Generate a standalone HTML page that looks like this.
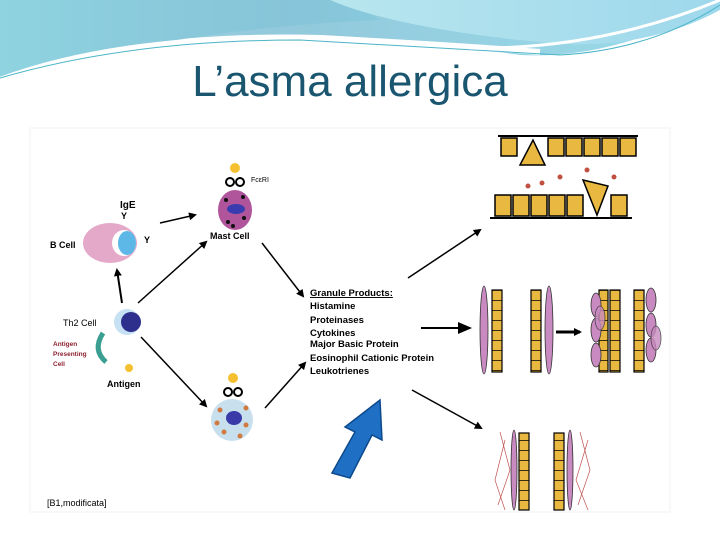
<!DOCTYPE html>
<html><head><meta charset="utf-8"><style>
body{margin:0;width:720px;height:540px;overflow:hidden;background:#fff;font-family:"Liberation Sans",sans-serif}
</style></head><body>
<svg width="720" height="540" xmlns="http://www.w3.org/2000/svg" font-family="Liberation Sans, sans-serif">
<defs>
<linearGradient id="g1" x1="0" y1="0" x2="1" y2="0"><stop offset="0" stop-color="#8fd3e0"/><stop offset="0.4" stop-color="#86c3d8"/><stop offset="1" stop-color="#8fd8e8"/></linearGradient>
<linearGradient id="g2" x1="0" y1="0" x2="1" y2="0"><stop offset="0" stop-color="#b8e6ee"/><stop offset="1" stop-color="#9ed8ec"/></linearGradient>
<marker id="ah" markerWidth="8" markerHeight="8" refX="6" refY="4" orient="auto" markerUnits="userSpaceOnUse"><path d="M0,0 L8,4 L0,8 Z" fill="#000"/></marker>
<marker id="ah2" markerWidth="14" markerHeight="12" refX="12" refY="6" orient="auto" markerUnits="userSpaceOnUse"><path d="M0,0 L14,6 L0,12 Z" fill="#000"/></marker>
<pattern id="cells" width="10" height="10" patternUnits="userSpaceOnUse"><rect width="10" height="10" fill="#e8b840"/><line x1="0" y1="0" x2="10" y2="0" stroke="#000" stroke-width="1.5"/></pattern>
</defs>
<!-- header waves -->
<path d="M0,0 H330 Q360,5 380,20 Q250,25 120,50 Q40,65 0,80 Z" fill="url(#g1)"/>
<path d="M0,80 Q120,30 320,35 Q420,40 520,55 Q620,60 720,0 V0 H0 Z" fill="url(#g1)" opacity="0.9"/>
<path d="M330,0 Q400,30 560,44 Q650,48 720,10 V0 Z" fill="url(#g2)"/>
<path d="M0,80 Q120,35 320,38 Q450,45 540,52" stroke="#fff" stroke-width="6" fill="none"/>
<path d="M0,78 Q130,40 300,40 Q440,48 560,55 Q650,50 720,5" stroke="#4bb5c8" stroke-width="1" fill="none"/>
<path d="M470,48 Q600,50 720,0" stroke="#fff" stroke-width="3" fill="none"/>
<text x="350" y="96" text-anchor="middle" font-size="44" fill="#1a5670" font-family="Liberation Sans, DejaVu Sans, sans-serif">L’asma allergica</text>
<!-- image area -->
<rect x="30" y="128" width="640" height="384" fill="#fff" stroke="#f2f2f2"/>
<!-- B cell -->
<ellipse cx="110" cy="243" rx="27" ry="20" fill="#e4a8c8"/>
<ellipse cx="124" cy="243" rx="12" ry="13" fill="#fff"/>
<ellipse cx="127" cy="243" rx="9" ry="12" fill="#5db8e8"/>
<text x="50" y="248" font-size="9" font-weight="bold">B Cell</text>
<text x="120" y="208" font-size="10" font-weight="bold">IgE</text>
<text x="121" y="219" font-size="9" font-weight="bold">Y</text>
<text x="144" y="243" font-size="9" font-weight="bold">Y</text>
<line x1="160" y1="223" x2="195" y2="215" stroke="#000" stroke-width="1.5" marker-end="url(#ah)"/>
<!-- mast cell -->
<ellipse cx="235" cy="210" rx="17" ry="20" fill="#b0559c"/>
<ellipse cx="236" cy="209" rx="9" ry="5" fill="#3b3bb0"/>
<circle cx="226" cy="200" r="2" fill="#111"/><circle cx="244" cy="218" r="2" fill="#111"/><circle cx="228" cy="222" r="2" fill="#111"/><circle cx="243" cy="197" r="2" fill="#111"/><circle cx="233" cy="226" r="2" fill="#111"/>
<circle cx="230" cy="182" r="4" fill="none" stroke="#000" stroke-width="2"/><circle cx="240" cy="182" r="4" fill="none" stroke="#000" stroke-width="2"/>
<circle cx="235" cy="168" r="5" fill="#f5c030"/>
<text x="251" y="182" font-size="7">FcεRI</text>
<text x="210" y="239" font-size="9" font-weight="bold">Mast Cell</text>
<!-- Th2 -->
<circle cx="127" cy="322" r="13" fill="#c6e0f4"/>
<circle cx="131" cy="322" r="10" fill="#2e2e8c"/>
<text x="63" y="326" font-size="9">Th2 Cell</text>
<text x="53" y="346" font-size="6.5" fill="#8c2030" font-weight="bold">Antigen</text>
<text x="53" y="356" font-size="6.5" fill="#8c2030" font-weight="bold">Presenting</text>
<text x="53" y="366" font-size="6.5" fill="#8c2030" font-weight="bold">Cell</text>
<path d="M103,333 Q92,350 106,362" stroke="#3a9e90" stroke-width="5" fill="none"/>
<circle cx="129" cy="368" r="4" fill="#f5c030"/>
<text x="107" y="387" font-size="9" font-weight="bold">Antigen</text>
<line x1="122" y1="303" x2="117" y2="270" stroke="#000" stroke-width="2" marker-end="url(#ah)"/>
<line x1="138" y1="303" x2="206" y2="242" stroke="#000" stroke-width="1.5" marker-end="url(#ah)"/>
<line x1="141" y1="337" x2="206" y2="406" stroke="#000" stroke-width="1.5" marker-end="url(#ah)"/>
<!-- eosinophil -->
<circle cx="232" cy="420" r="21" fill="#c8e0ee"/>
<ellipse cx="234" cy="418" rx="8" ry="7" fill="#3a3aa8"/>
<circle cx="220" cy="410" r="2.5" fill="#d07a40"/><circle cx="246" cy="425" r="2.5" fill="#d07a40"/><circle cx="224" cy="432" r="2.5" fill="#d07a40"/><circle cx="240" cy="436" r="2.5" fill="#d07a40"/><circle cx="217" cy="423" r="2.5" fill="#d07a40"/><circle cx="246" cy="408" r="2.5" fill="#d07a40"/>
<circle cx="228" cy="392" r="4" fill="none" stroke="#000" stroke-width="2"/><circle cx="238" cy="392" r="4" fill="none" stroke="#000" stroke-width="2"/>
<circle cx="233" cy="378" r="5" fill="#f5c030"/>
<line x1="265" y1="408" x2="305" y2="363" stroke="#000" stroke-width="1.5" marker-end="url(#ah)"/>
<line x1="262" y1="243" x2="303" y2="296" stroke="#000" stroke-width="1.5" marker-end="url(#ah)"/>
<!-- granule text -->
<g font-size="9.5" font-weight="bold">
<text x="310" y="296" text-decoration="underline">Granule Products:</text>
<text x="310" y="309">Histamine</text>
<text x="310" y="323">Proteinases</text>
<text x="310" y="336">Cytokines</text>
<text x="310" y="347">Major Basic Protein</text>
<text x="310" y="361">Eosinophil Cationic Protein</text>
<text x="310" y="374">Leukotrienes</text>
</g>
<line x1="421" y1="328" x2="470" y2="328" stroke="#000" stroke-width="2" marker-end="url(#ah2)"/>
<line x1="408" y1="278" x2="480" y2="230" stroke="#000" stroke-width="1.5" marker-end="url(#ah)"/>
<line x1="412" y1="390" x2="481" y2="428" stroke="#000" stroke-width="1.5" marker-end="url(#ah)"/>
<!-- blue arrow -->
<path d="M332,473 L355,432 L345,427 L380,400 L382,440 L372,435 L350,478 Z" fill="#1f6fc4" stroke="#0d4a8c" stroke-width="1.5"/>
<text x="47" y="506" font-size="9">[B1,modificata]</text>
<!-- right top airway -->
<line x1="498" y1="136" x2="638" y2="136" stroke="#000" stroke-width="2"/>
<g fill="#e8b840" stroke="#000" stroke-width="1.5">
<rect x="501" y="138" width="16" height="18"/><rect x="548" y="138" width="16" height="18"/><rect x="566" y="138" width="16" height="18"/><rect x="584" y="138" width="16" height="18"/><rect x="602" y="138" width="16" height="18"/><rect x="620" y="138" width="16" height="18"/>
<path d="M520,165 L533,140 L545,165 Z"/>
<rect x="495" y="195" width="16" height="21"/><rect x="513" y="195" width="16" height="21"/><rect x="531" y="195" width="16" height="21"/><rect x="549" y="195" width="16" height="21"/><rect x="567" y="195" width="16" height="21"/><rect x="611" y="195" width="16" height="21"/>
<path d="M583,180 L608,186 L597,215 Z"/>
</g>
<line x1="490" y1="218" x2="632" y2="218" stroke="#000" stroke-width="2"/>
<circle cx="528" cy="186" r="2.5" fill="#c05040"/><circle cx="542" cy="183" r="2.5" fill="#c05040"/><circle cx="560" cy="177" r="2.5" fill="#c05040"/><circle cx="587" cy="170" r="2.5" fill="#c05040"/><circle cx="614" cy="177" r="2.5" fill="#c05040"/>
<!-- middle panels -->
<g fill="url(#cells)" stroke="#000" stroke-width="1.2">
<rect x="492" y="290" width="10" height="82"/><rect x="531" y="290" width="10" height="82"/><rect x="610" y="290" width="10" height="82"/><rect x="634" y="290" width="10" height="82"/>
<rect x="599" y="290" width="9" height="82"/>
</g>
<g fill="#c88ac0" stroke="#333" stroke-width="0.8">
<ellipse cx="484" cy="330" rx="4" ry="44"/><ellipse cx="549" cy="330" rx="4" ry="44"/>
<ellipse cx="596" cy="305" rx="5" ry="12"/><ellipse cx="596" cy="330" rx="5" ry="12"/><ellipse cx="596" cy="355" rx="5" ry="12"/>
<ellipse cx="651" cy="300" rx="5" ry="12"/><ellipse cx="651" cy="325" rx="5" ry="12"/><ellipse cx="651" cy="350" rx="5" ry="12"/>
<ellipse cx="600" cy="318" rx="5" ry="12" opacity="0.8"/><ellipse cx="656" cy="338" rx="5" ry="12" opacity="0.8"/>
</g>
<line x1="556" y1="332" x2="580" y2="332" stroke="#000" stroke-width="3" marker-end="url(#ah)"/>
<!-- bottom panels -->
<g fill="url(#cells)" stroke="#000" stroke-width="1.2">
<rect x="519" y="433" width="10" height="77"/><rect x="554" y="433" width="10" height="77"/>
</g>
<g fill="#c88ac0" stroke="#333" stroke-width="0.8"><ellipse cx="514" cy="470" rx="3" ry="40"/><ellipse cx="570" cy="470" rx="3" ry="40"/></g>
<g stroke="#c05050" stroke-width="0.7" fill="none">
<path d="M500,432 L510,470 L498,505 M505,440 L495,480 L505,510 M580,432 L590,470 L578,505 M588,440 L576,480 L588,510"/>
</g>
</svg>
</body></html>
